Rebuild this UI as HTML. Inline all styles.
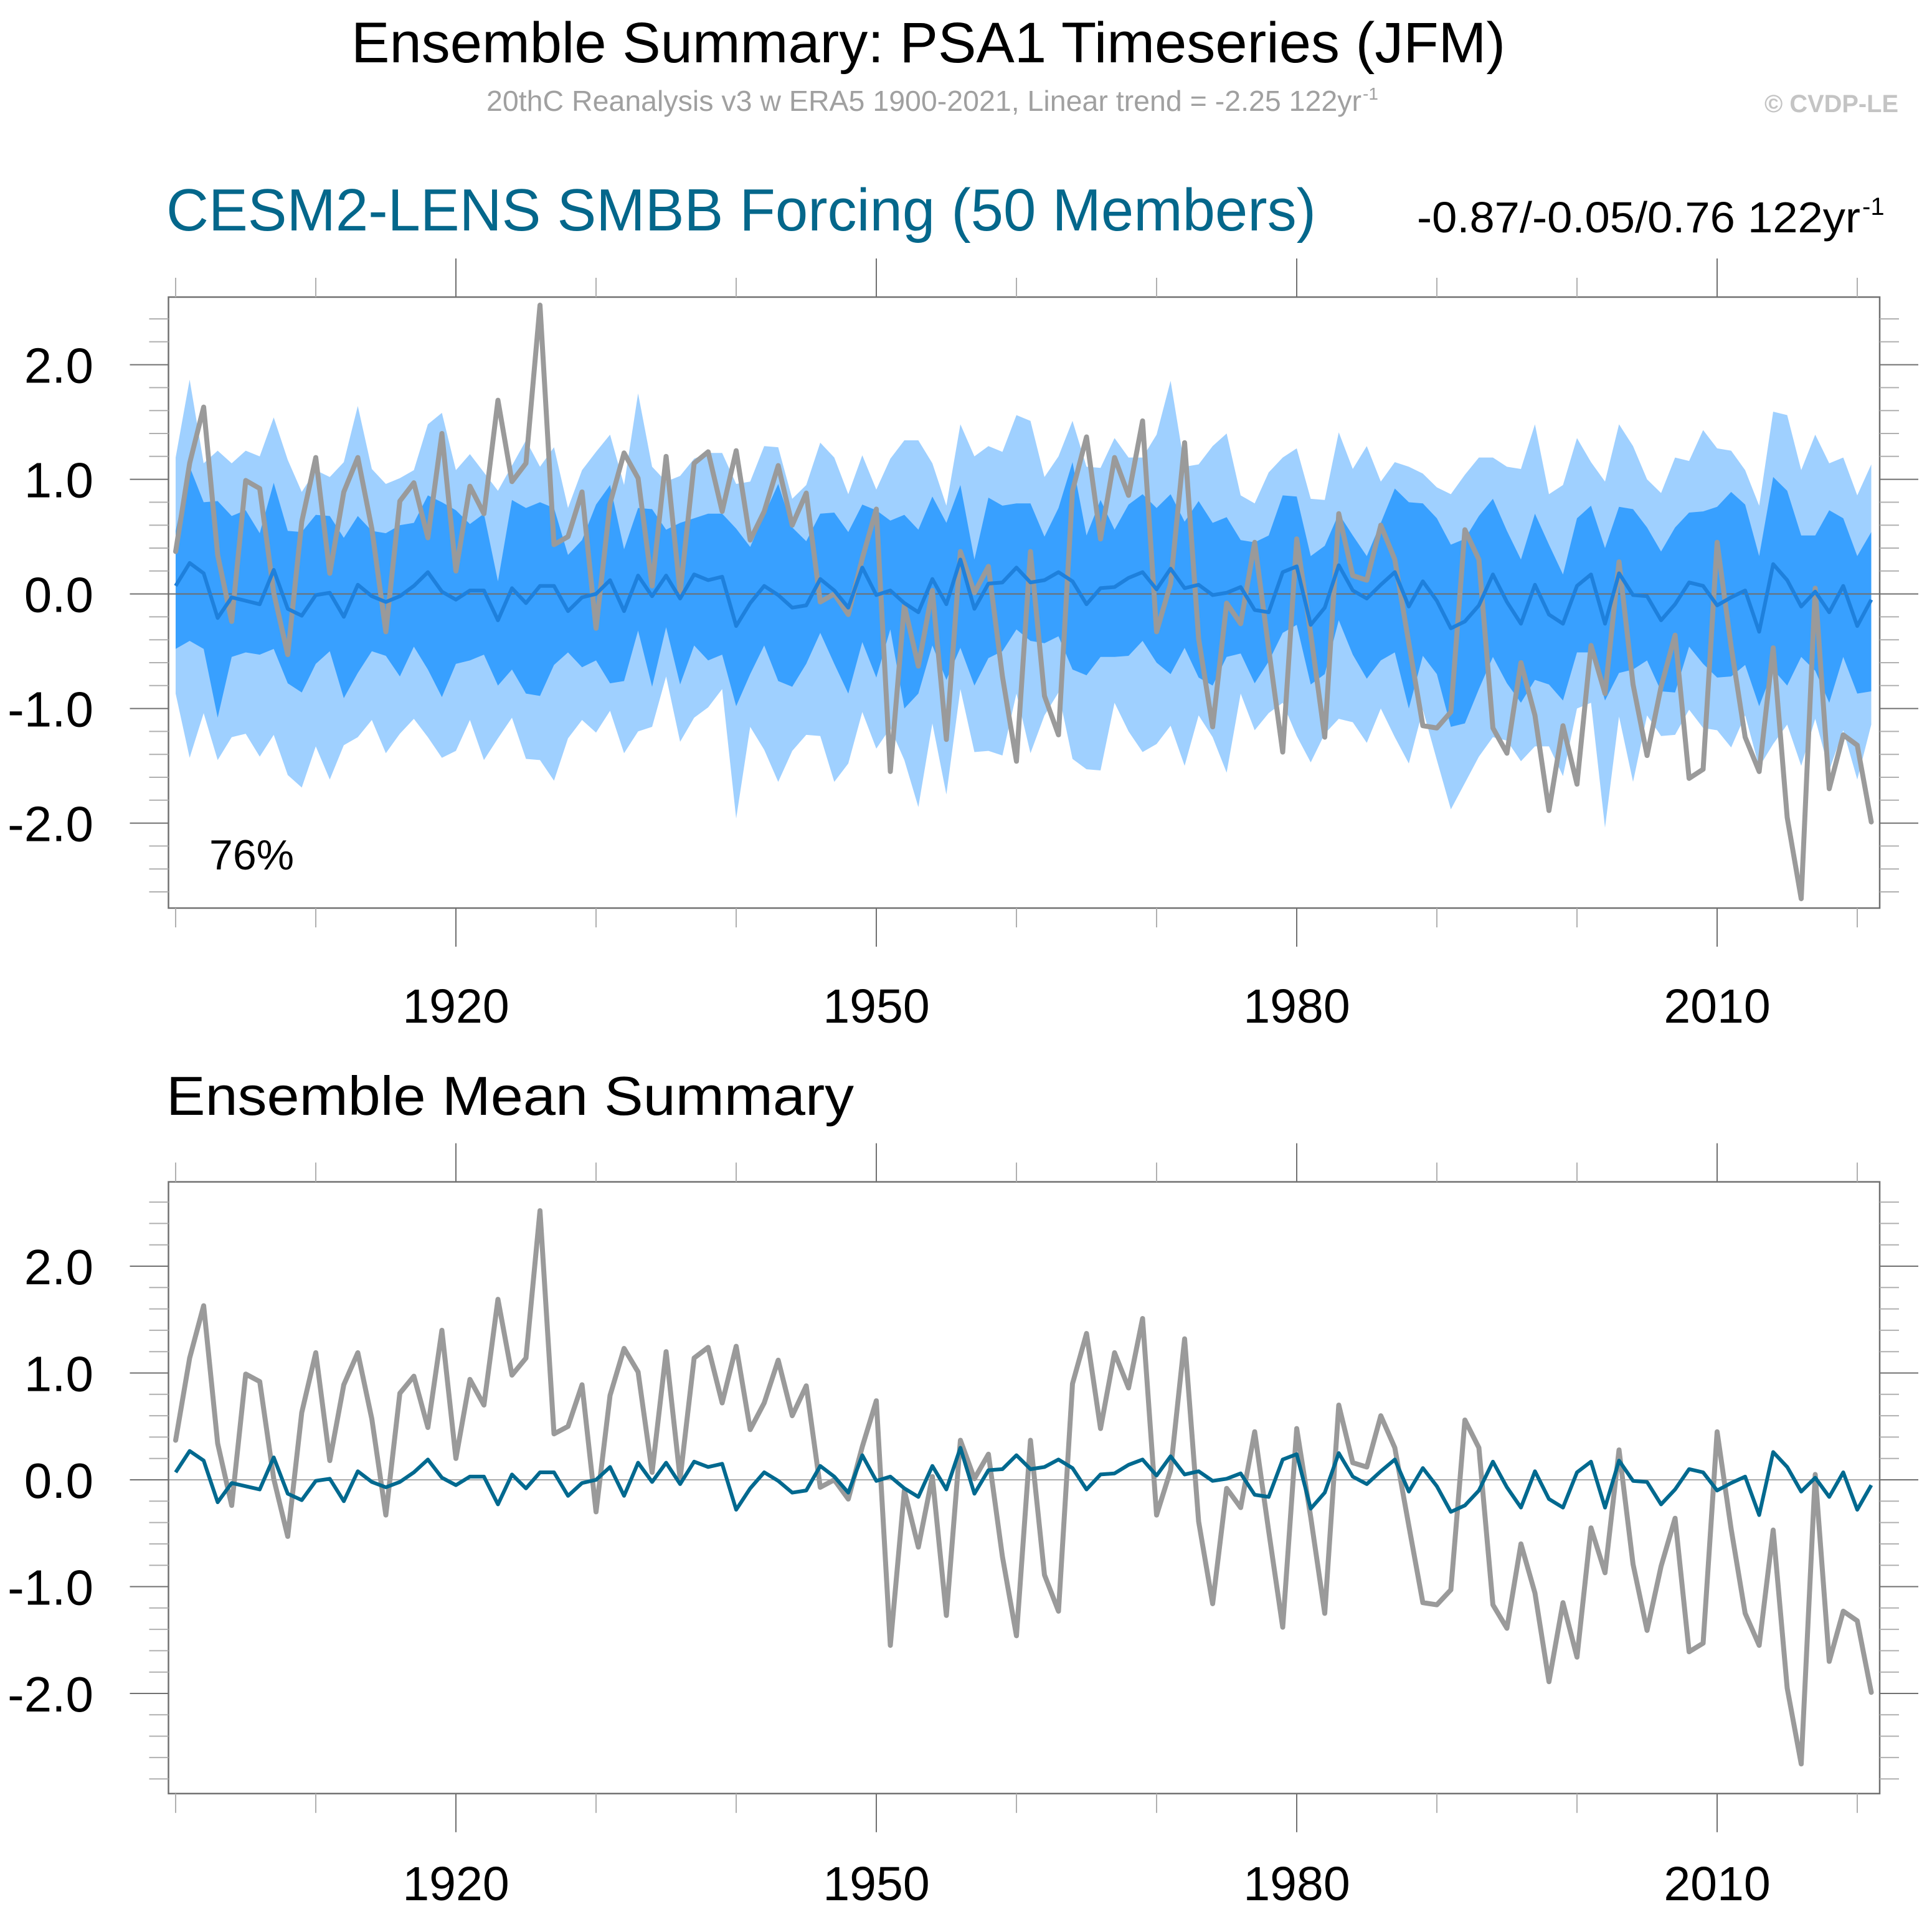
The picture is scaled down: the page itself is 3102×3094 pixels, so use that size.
<!DOCTYPE html>
<html>
<head>
<meta charset="utf-8">
<style>
  html,body{margin:0;padding:0;background:#fff;}
  svg{display:block;}
  text{font-family:"Liberation Sans",sans-serif;}
</style>
</head>
<body>
<svg id="chart" width="3102" height="3094" viewBox="0 0 3102 3094" xmlns="http://www.w3.org/2000/svg">
  <rect x="0" y="0" width="3102" height="3094" fill="#fff"/>
  <text x="564" y="100" font-size="92" textLength="1853" lengthAdjust="spacingAndGlyphs" fill="#000">Ensemble Summary: PSA1 Timeseries (JFM)</text>
  <text x="781" y="178" font-size="46" textLength="1405" lengthAdjust="spacingAndGlyphs" fill="#a0a0a0">20thC Reanalysis v3 w ERA5 1900-2021, Linear trend = -2.25 122yr</text>
  <text x="2188" y="160" font-size="28" fill="#a0a0a0">-1</text>
  <text x="2833" y="180" font-size="40" font-weight="bold" textLength="215" lengthAdjust="spacingAndGlyphs" fill="#c4c4c4">© CVDP-LE</text>
  <text x="267" y="370" font-size="96" textLength="1846" lengthAdjust="spacingAndGlyphs" fill="#04678b">CESM2-LENS SMBB Forcing (50 Members)</text>
  <text x="2275" y="373" font-size="70" textLength="712" lengthAdjust="spacingAndGlyphs" fill="#000">-0.87/-0.05/0.76 122yr</text>
  <text x="2990" y="345" font-size="40" fill="#000">-1</text>
  <text x="267" y="1790" font-size="88" textLength="1104" lengthAdjust="spacingAndGlyphs" fill="#000">Ensemble Mean Summary</text>
  <g id="top"></g>
  <g id="bot"></g>
</svg>
<script>
const obs = [0.37,1.14,1.63,0.34,-0.24,0.99,0.92,0.01,-0.53,0.63,
1.19,0.18,0.89,1.19,0.57,-0.33,0.81,0.97,0.49,1.40,
0.20,0.94,0.70,1.69,0.98,1.14,2.52,0.43,0.50,0.89,
-0.30,0.79,1.23,1.01,0.07,1.20,0.01,1.14,1.24,0.72,
1.25,0.47,0.72,1.12,0.60,0.88,-0.07,0.00,-0.18,0.31,
0.74,-1.55,-0.10,-0.63,0.03,-1.27,0.37,0.01,0.24,-0.72,
-1.46,0.37,-0.89,-1.23,0.90,1.37,0.48,1.19,0.86,1.51,
-0.33,0.09,1.32,-0.39,-1.16,-0.08,-0.26,0.45,-0.48,-1.38,
0.48,-0.35,-1.25,0.70,0.16,0.12,0.60,0.30,-0.43,-1.15,
-1.17,-1.03,0.56,0.30,-1.17,-1.39,-0.60,-1.06,-1.89,-1.15,
-1.66,-0.45,-0.87,0.28,-0.79,-1.41,-0.81,-0.36,-1.61,-1.53,
0.45,-0.46,-1.25,-1.55,-0.47,-1.95,-2.66,0.05,-1.70,-1.23,
-1.32,-1.99];
const ensMean = [0.07,0.27,0.18,-0.21,-0.03,-0.06,-0.09,0.21,-0.13,-0.19,
-0.01,0.01,-0.20,0.08,-0.02,-0.07,-0.02,0.07,0.19,0.02,
-0.05,0.03,0.03,-0.23,0.05,-0.08,0.07,0.07,-0.15,-0.03,
0.00,0.12,-0.15,0.16,-0.02,0.16,-0.04,0.17,0.12,0.15,
-0.28,-0.08,0.07,-0.01,-0.12,-0.10,0.13,0.03,-0.12,0.23,
-0.01,0.03,-0.08,-0.16,0.13,-0.09,0.30,-0.13,0.09,0.10,
0.23,0.10,0.12,0.19,0.11,-0.09,0.05,0.06,0.14,0.19,
0.04,0.22,0.05,0.08,-0.01,0.01,0.06,-0.14,-0.16,0.19,
0.24,-0.27,-0.12,0.25,0.03,-0.04,0.08,0.19,-0.11,0.11,
-0.06,-0.30,-0.24,-0.10,0.17,-0.07,-0.26,0.08,-0.18,-0.26,
0.07,0.17,-0.26,0.18,-0.01,-0.02,-0.23,-0.09,0.10,0.07,
-0.10,-0.03,0.03,-0.33,0.26,0.12,-0.11,0.02,-0.16,0.07,
-0.28,-0.05];
const outerUpper = [1.19,1.87,1.14,1.25,1.14,1.25,1.20,1.54,1.17,0.89,
1.08,1.02,1.15,1.64,1.09,0.96,1.01,1.08,1.48,1.58,
1.08,1.22,1.06,0.90,1.12,1.34,1.11,1.28,0.75,1.08,
1.24,1.39,0.95,1.75,1.11,0.98,1.03,1.18,1.23,1.23,
0.96,0.98,1.29,1.28,0.83,0.95,1.32,1.19,0.87,1.21,
0.91,1.18,1.34,1.34,1.14,0.77,1.48,1.20,1.29,1.24,
1.56,1.51,1.02,1.20,1.51,1.11,1.10,1.36,1.19,1.19,
1.39,1.86,1.11,1.13,1.29,1.40,0.86,0.79,1.06,1.19,
1.27,0.83,0.82,1.41,1.09,1.29,0.98,1.15,1.11,1.05,
0.93,0.87,1.04,1.19,1.19,1.11,1.09,1.48,0.87,0.95,
1.36,1.15,0.98,1.48,1.29,1.00,0.88,1.19,1.16,1.43,
1.27,1.25,1.08,0.77,1.59,1.56,1.08,1.39,1.14,1.19,
0.86,1.13];
const innerUpper = [0.55,1.11,0.80,0.81,0.68,0.73,0.53,0.97,0.55,0.54,
0.69,0.68,0.49,0.68,0.55,0.53,0.60,0.62,0.86,0.80,
0.73,0.61,0.70,0.11,0.82,0.75,0.80,0.75,0.34,0.47,
0.78,0.95,0.39,0.75,0.74,0.56,0.62,0.66,0.70,0.70,
0.57,0.41,0.69,0.96,0.58,0.46,0.70,0.71,0.54,0.78,
0.73,0.64,0.69,0.56,0.85,0.62,0.95,0.30,0.84,0.77,
0.79,0.79,0.50,0.75,1.15,0.51,0.82,0.56,0.78,0.87,
0.75,0.87,0.63,0.81,0.62,0.67,0.47,0.45,0.51,0.86,
0.85,0.33,0.42,0.70,0.51,0.33,0.62,0.92,0.80,0.79,
0.66,0.43,0.48,0.68,0.83,0.55,0.30,0.70,0.43,0.17,
0.66,0.77,0.40,0.76,0.74,0.58,0.37,0.58,0.71,0.72,
0.76,0.89,0.78,0.33,1.02,0.90,0.51,0.51,0.73,0.66,
0.33,0.54];
const innerLower = [-0.48,-0.41,-0.48,-1.08,-0.55,-0.51,-0.53,-0.48,-0.78,-0.86,
-0.61,-0.50,-0.91,-0.69,-0.50,-0.54,-0.72,-0.46,-0.66,-0.90,
-0.61,-0.58,-0.53,-0.80,-0.66,-0.87,-0.89,-0.62,-0.51,-0.64,
-0.58,-0.78,-0.76,-0.32,-0.81,-0.29,-0.79,-0.45,-0.58,-0.53,
-0.98,-0.70,-0.45,-0.76,-0.81,-0.61,-0.34,-0.61,-0.87,-0.42,
-0.73,-0.31,-1.00,-0.87,-0.45,-0.75,-0.47,-0.80,-0.56,-0.50,
-0.31,-0.41,-0.43,-0.37,-0.66,-0.71,-0.55,-0.55,-0.54,-0.41,
-0.60,-0.70,-0.47,-0.73,-0.80,-0.55,-0.52,-0.78,-0.59,-0.34,
-0.27,-0.79,-0.70,-0.23,-0.53,-0.74,-0.58,-0.51,-1.00,-0.54,
-0.70,-1.16,-1.13,-0.83,-0.55,-0.78,-0.95,-0.75,-0.79,-0.93,
-0.51,-0.51,-0.93,-0.69,-0.66,-0.58,-0.85,-0.86,-0.46,-0.61,
-0.73,-0.72,-0.62,-0.98,-0.66,-0.80,-0.55,-0.67,-0.95,-0.55,
-0.87,-0.85];
const outerLower = [-0.87,-1.43,-1.04,-1.45,-1.25,-1.22,-1.42,-1.23,-1.58,-1.69,
-1.33,-1.62,-1.32,-1.25,-1.10,-1.39,-1.22,-1.09,-1.25,-1.43,
-1.37,-1.10,-1.45,-1.26,-1.08,-1.44,-1.45,-1.63,-1.26,-1.10,
-1.21,-1.02,-1.39,-1.20,-1.16,-0.72,-1.29,-1.08,-0.99,-0.83,
-1.96,-1.16,-1.36,-1.64,-1.37,-1.23,-1.24,-1.64,-1.48,-1.03,
-1.35,-1.17,-1.45,-1.86,-1.13,-1.75,-0.83,-1.38,-1.37,-1.41,
-0.87,-1.39,-1.06,-0.86,-1.44,-1.53,-1.54,-0.95,-1.20,-1.38,
-1.31,-1.15,-1.50,-1.06,-1.25,-1.56,-0.87,-1.19,-1.04,-0.95,
-1.24,-1.47,-1.22,-1.09,-1.12,-1.30,-1.00,-1.25,-1.48,-1.01,
-1.45,-1.88,-1.65,-1.42,-1.25,-1.28,-1.46,-1.33,-1.33,-1.59,
-1.00,-0.95,-2.04,-1.07,-1.64,-1.06,-1.24,-1.23,-1.01,-1.17,
-1.19,-1.34,-1.06,-1.51,-1.31,-1.14,-1.50,-1.09,-1.54,-1.19,
-1.62,-1.14];
const firstYear = 1900;
const xTickLabels = ["1920","1950","1980","2010"];
const yTickLabels = ["-2.0","-1.0","0.0","1.0","2.0"];
const pctLabel = "76%";

const NS = "http://www.w3.org/2000/svg";
function mk(tag, attrs, parent){
  const e = document.createElementNS(NS, tag);
  for (const k in attrs) e.setAttribute(k, attrs[k]);
  parent.appendChild(e);
  return e;
}
const X0 = 282, XS = 22.5;
function xOf(i){ return X0 + XS * i; }

function panel(g, top, bottom, zeroY, unit, hasBands, meanColor, labelOff){
  const yOf = v => zeroY - unit * v;
  const L = 270.5, R = 3018;
  if (hasBands){
    let d1 = "", d2 = "";
    outerUpper.forEach((v,i)=>{ d1 += (i? "L":"M") + xOf(i) + "," + yOf(v); });
    for (let i = outerLower.length-1; i >= 0; i--) d1 += "L" + xOf(i) + "," + yOf(outerLower[i]);
    innerUpper.forEach((v,i)=>{ d2 += (i? "L":"M") + xOf(i) + "," + yOf(v); });
    for (let i = innerLower.length-1; i >= 0; i--) d2 += "L" + xOf(i) + "," + yOf(innerLower[i]);
    const b1 = mk("path", {d: d1 + "Z", fill: "#9fd0ff"}, g);
    
    
    const b2 = mk("path", {d: d2 + "Z", fill: "#38a0ff"}, g);
    
    
  }
  const zl = mk("line", {x1: L, x2: R, y1: zeroY, y2: zeroY, stroke: hasBands ? "#6e6e6e" : "#aaaaaa", "stroke-width": 2}, g);
  
  
  let po = "";
  obs.forEach((v,i)=>{ po += xOf(i) + "," + yOf(v) + " "; });
  const ol = mk("polyline", {points: po, fill: "none", stroke: "#9a9a9a", "stroke-width": 8, "stroke-linejoin": "round", "stroke-linecap": "round"}, g);
  
  
  let pm = "";
  ensMean.forEach((v,i)=>{ pm += xOf(i) + "," + yOf(v) + " "; });
  const ml = mk("polyline", {points: pm, fill: "none", stroke: meanColor, "stroke-width": 6, "stroke-linejoin": "round"}, g);
  
  
  const fr = mk("rect", {x: L, y: top, width: R - L, height: bottom - top, fill: "none", stroke: "#707070", "stroke-width": 2.5}, g);
  
  
  for (let k = -14; k <= 14; k++){
    const v = k * 0.2, y = yOf(v);
    if (y < top + 2 || y > bottom - 2) continue;
    const major = (k % 5 === 0);
    const len = major ? 62 : 31;
    const c = major ? "#707070" : "#b0b0b0";
    const t1 = mk("line", {x1: L - len, x2: L, y1: y, y2: y, stroke: c, "stroke-width": 2}, g);
    
    
    const t2 = mk("line", {x1: R, x2: R + len, y1: y, y2: y, stroke: c, "stroke-width": 2}, g);
    
    
  }
  yTickLabels.forEach(s => {
    const v = parseFloat(s);
    const tl = mk("text", {x: 150, y: yOf(v) + 29, "font-size": 80, "text-anchor": "end", fill: "#000"}, g);
    tl.textContent = s;
    
    
  });
  for (let yr = 1900; yr <= 2020; yr += 10){
    const x = xOf(yr - firstYear);
    const major = ((yr - 1920) % 30 === 0);
    const len = major ? 62 : 31;
    const c = major ? "#707070" : "#b0b0b0";
    const a = mk("line", {x1: x, x2: x, y1: top - len, y2: top, stroke: c, "stroke-width": 2}, g);
    
    
    const b = mk("line", {x1: x, x2: x, y1: bottom, y2: bottom + len, stroke: c, "stroke-width": 2}, g);
    
    
  }
  xTickLabels.forEach(s => {
    const x = xOf(parseInt(s) - firstYear);
    const tl = mk("text", {x: x, y: bottom + labelOff, "font-size": 77, "text-anchor": "middle", fill: "#000"}, g);
    tl.textContent = s;
    
    
  });
  return yOf;
}

const topG = document.getElementById("top");
panel(topG, 477, 1458, 953.6, 184, true, "#1e80dc", 184);
const pct = mk("text", {x: 336, y: 1396, "font-size": 68, fill: "#000"}, topG);
pct.textContent = pctLabel;



const botG = document.getElementById("bot");
panel(botG, 1897.6, 2879.8, 2376, 171.5, false, "#00698f", 171);
</script>
</body>
</html>
